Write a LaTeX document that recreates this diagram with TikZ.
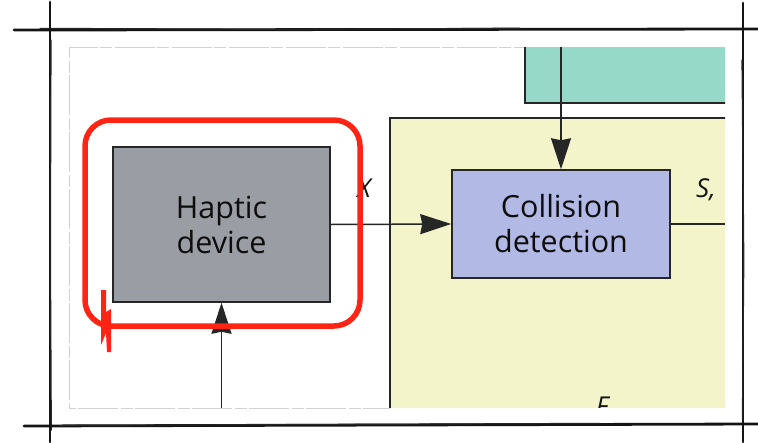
\documentclass[tikz,border=0pt]{standalone}
\usepackage{fontspec}
\setmainfont{Open Sans}
\usetikzlibrary{arrows.meta}
\definecolor{tealfill}{HTML}{96D9C8}
\definecolor{yellowfill}{HTML}{F3F4CA}
\definecolor{lavfill}{HTML}{B1B9E4}
\definecolor{greyfill}{HTML}{9A9DA4}
\definecolor{boxline}{HTML}{262626}
\definecolor{redmark}{HTML}{FF2414}
\definecolor{framegray}{HTML}{D2D2D2}
\tikzset{
  block/.style={draw=boxline, line width=1.5pt, align=center, inner sep=0pt,
    font=\fontsize{30.5}{35}\selectfont, text=black!95},
  conn/.style={draw=boxline, line width=1.5pt},
  tipped/.style={conn, -{Stealth[length=31pt,width=20pt,inset=2pt]}},
  lab/.style={font=\fontsize{26}{30}\selectfont\itshape, text=black!92, inner sep=0pt},
  sketch/.style={line width=2.8pt, line cap=round, black!92},
  sketchthin/.style={line width=1.2pt, line cap=round, black!85},
}
\begin{document}
\begin{tikzpicture}[x=1pt,y=-1pt]
\useasboundingbox (0,0) rectangle (758,442);
\fill[white] (0,0) rectangle (758,442);

% faint inner frame of the figure panel
\draw[framegray, line width=0.8pt, dash pattern=on 40pt off 3pt on 12pt off 2pt]
  (725,47) -- (69,47) -- (69,408) -- (390,408);

% panel contents, cut at the panel edge
\begin{scope}
  \clip (69,47) rectangle (725,407);
  \fill[tealfill] (525,40) rectangle (760,103);
  \draw[boxline, line width=1.5pt] (525,40) -- (525,103) -- (760,103);
  \fill[yellowfill] (390,118) rectangle (760,420);
  \draw[boxline, line width=1.5pt] (390,420) -- (390,118) -- (760,118);
  \node[lab, anchor=base] (flab) at (602,415) {F};
\end{scope}

% blocks
\node[block, fill=greyfill, minimum width=217pt, minimum height=155pt]
  (haptic) at (221.5,224.5) {Haptic\\device};
\node[block, fill=lavfill, minimum width=218pt, minimum height=108pt]
  (coll) at (561,224) {Collision\\detection};

% connectors
\coordinate (modelsrc) at (561,47);
\coordinate (inputsrc) at (221.5,408);
\coordinate (sout) at (725,224);
\draw[tipped] (modelsrc) -- (coll.north);
\draw[tipped] (haptic.east) -- (coll.west);
\draw[tipped] (inputsrc) -- (haptic.south);
\draw[conn] (coll.east) -- (sout);

% signal labels
\node[lab, anchor=base] (xlab) at (364,197) {X};
\node[lab, anchor=base west] (slab) at (696,197) {S,};

% red highlight loop
\draw[redmark, line width=5.5pt, rounded corners=26pt] (85,120) rectangle (360,326);
\fill[redmark] (101,290) -- (106,290) -- (106,312) -- (111,309) -- (111,352)
  -- (107,352) -- (106,333) -- (101,345) -- cycle;

% hand-drawn outer frame
\draw[sketch] (14,30) -- (758,29);
\draw[sketchthin] (40,28.4) -- (300,29.4) -- (520,28.2);
\draw[sketch] (50,2) -- (50,442);
\draw[sketchthin] (51,40) -- (50.4,250) -- (51.3,430);
\draw[sketch] (24,426) -- (758,424);
\draw[sketchthin] (60,425.4) -- (340,424.4) -- (600,423.4);
\draw[sketch] (743,3) -- (743,442);
\draw[sketchthin] (742,60) -- (743.8,260) -- (742.4,420);
\end{tikzpicture}
\end{document}
